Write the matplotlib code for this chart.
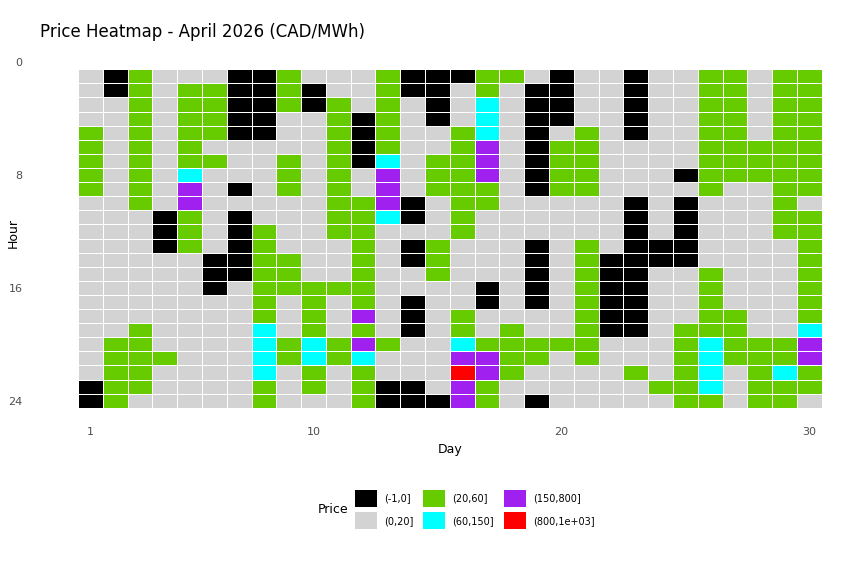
import numpy as np
import matplotlib
matplotlib.use("Agg")
import matplotlib.pyplot as plt
from matplotlib.colors import ListedColormap
from matplotlib.patches import Patch

# price bins: K=(-1,0] G=(0,20] N=(20,60] C=(60,150] P=(150,800] R=(800,1e+03]
bins = ["(-1,0]", "(0,20]", "(20,60]", "(60,150]", "(150,800]", "(800,1e+03]"]
colors = ["#000000", "#d3d3d3", "#66cc00", "#00ffff", "#a020f0", "#ff0000"]
code = {"K": 0, "G": 1, "N": 2, "C": 3, "P": 4, "R": 5}

days = np.arange(1, 31)
hours = np.arange(1, 25)

# one string per hour, days 1..15 | days 16..30
rows = [
    "GKNGGGKKNGGGNKK" + "KNNGKGGKGGNNGNN",
    "GKNGNNKKNKGGNKK" + "GNGKKGGKGGNNGNN",
    "GGNGNNKKNKNGNGK" + "GCGKKGGKGGNNGNN",
    "GGNGNNKKGGNKNGK" + "GCGKKGGKGGNNGNN",
    "NGNGNNKKGGNKNGG" + "NCGKGNGKGGNNGNN",
    "NGNGNGGGGGNKNGG" + "NPGKNNGGGGNNNNN",
    "NGNGNNGGNGNKCGN" + "NPGKNNGGGGNNNNN",
    "NGNGCGGGNGNGPGN" + "NPGKNNGGGKNNNNN",
    "NGNGPGKGNGNGPGN" + "NNGKNNGGGGNGGNN",
    "GGNGPGGGGGNNPKG" + "NNGGGGGKGKGGGNG",
    "GGGKNGKGGGNNCKG" + "NGGGGGGKGKGGGNN",
    "GGGKNGKNGGNNGGG" + "NGGGGGGKGKGGGNN",
    "GGGKNGKNGGGNGKN" + "GGGKGNGKKKGGGGN",
    "GGGGGKKNNGGNGKN" + "GGGKGNKKKKGGGGN",
    "GGGGGKKNNGGNGGN" + "GGGKGNKKGGNGGGN",
    "GGGGGKGNNNNNGGG" + "GKGKGNKKGGNGGGN",
    "GGGGGGGNGNGNGKG" + "GKGKGNKKGGNGGGN",
    "GGGGGGGNGNGPGKG" + "NGGGGNKKGGNNGGN",
    "GGNGGGGCGNGNGKG" + "NGNGGNKKGNNNGGC",
    "GNNGGGGCNCNPNGG" + "CNNNNNGGGNCNNNP",
    "GNNNGGGCNCNCGGG" + "PPNNGNGGGNCNNNP",
    "GNNGGGGCGNGNGGG" + "RPNGGGGNGNCGNCN",
    "KNNGGGGNGNGNKKG" + "PNGGGGGGNNCGNNN",
    "KNGGGGGNGGGNKKK" + "PNGKGGGGGNNGNNG",
]
grid = np.array([[code[c] for c in r] for r in rows])

fig = plt.figure(figsize=(8.66, 5.68), dpi=100)
ax = fig.add_axes([0.090, 0.282, 0.859, 0.616])
cmap = ListedColormap(colors)
xe = np.append(days - 0.5, days[-1] + 0.5)
ye = np.append(hours - 0.5, hours[-1] + 0.5)
ax.pcolormesh(xe, ye, grid, cmap=cmap, vmin=-0.5, vmax=5.5,
              edgecolors="white", linewidth=0.6)
ax.set_xlim(0.5, 30.5)
ax.set_ylim(24.5, -0.3)
ax.set_xticks([1, 10, 20, 30])
ax.set_yticks([0, 8, 16, 24])
ax.tick_params(length=0, labelsize=8, colors="#4d4d4d")
ax.tick_params(axis="y", pad=40)
ax.tick_params(axis="x", pad=14)
for s in ax.spines.values():
    s.set_visible(False)
ax.set_xlabel("Day", fontsize=9)
ax.set_ylabel("Hour", fontsize=9)
ax.yaxis.set_label_coords(-0.078, 0.5)
fig.text(0.046, 0.935, "Price Heatmap - April 2026 (CAD/MWh)", fontsize=12)

handles = [Patch(facecolor=c, label=b) for c, b in zip(colors, bins)]
fig.legend(handles=handles, ncol=3, loc="center", bbox_to_anchor=(0.548, 0.103),
           frameon=False, fontsize=7, handlelength=2.3, handleheight=2.3,
           columnspacing=1.0, labelspacing=0.55, handletextpad=0.7)
fig.text(0.367, 0.103, "Price", fontsize=9, va="center")

fig.savefig("out.png", dpi=100)
